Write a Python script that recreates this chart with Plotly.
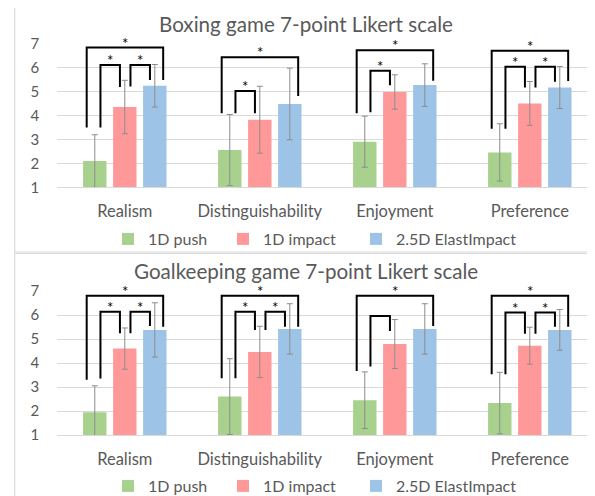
import plotly.graph_objects as go

# ---------------- data ----------------
categories = ["Realism", "Distinguishability", "Enjoyment", "Preference"]
series_names = ["1D push", "1D impact", "2.5D ElastImpact"]

boxing_push = [2.10, 2.56, 2.91, 2.46]
boxing_push_err = [1.10, 1.49, 1.07, 1.20]
boxing_impact = [4.36, 3.83, 4.99, 4.51]
boxing_impact_err = [1.12, 1.40, 0.72, 0.92]
boxing_elast = [5.25, 4.49, 5.28, 5.18]
boxing_elast_err = [0.89, 1.50, 0.89, 0.88]

goal_push = [1.95, 2.60, 2.45, 2.33]
goal_push_err = [1.10, 1.58, 1.18, 1.28]
goal_impact = [4.60, 4.46, 4.79, 4.72]
goal_impact_err = [0.86, 1.07, 1.02, 0.77]
goal_elast = [5.38, 5.42, 5.42, 5.38]
goal_elast_err = [1.13, 1.05, 1.05, 0.85]

panel_titles = ["Boxing game 7-point Likert scale", "Goalkeeping game 7-point Likert scale"]
y_ticks = [1, 2, 3, 4, 5, 6, 7]

# significance brackets: (category index, series a, series b, top level, left end, right end, star)
boxing_brackets = [
    (0, 0, 2, 6.85, 3.50, 5.49, True), (0, 0, 1, 6.12, 3.50, 5.20, True), (0, 1, 2, 6.12, 5.22, 5.49, True),
    (1, 0, 2, 6.45, 4.10, 4.82, True), (1, 0, 1, 5.03, 4.10, 4.10, True),
    (2, 0, 2, 6.74, 4.10, 5.46, True), (2, 0, 1, 5.88, 4.14, 5.27, True),
    (3, 0, 2, 6.72, 3.45, 5.45, True), (3, 0, 1, 6.05, 3.45, 5.18, True), (3, 1, 2, 6.05, 5.18, 5.42, True),
]
goal_brackets = [
    (0, 0, 2, 6.80, 3.30, 5.51, True), (0, 0, 1, 6.14, 3.35, 5.24, True), (0, 1, 2, 6.14, 5.24, 5.54, True),
    (1, 0, 2, 6.80, 3.36, 5.51, True), (1, 0, 1, 6.14, 3.36, 5.37, True), (1, 1, 2, 6.14, 5.37, 5.51, True),
    (2, 0, 2, 6.80, 3.67, 5.54, True), (2, 0, 1, 5.96, 3.85, 5.33, False),
    (3, 0, 2, 6.80, 3.53, 5.51, True), (3, 0, 1, 6.10, 3.53, 5.22, True), (3, 1, 2, 6.10, 5.22, 5.51, True),
]

# ---------------- style ----------------
OFF = 8                      # page body margin of the browser
W, H = 595 - OFF, 496 - OFF  # figure size so that its right/bottom edges meet the window
FONT = "Lato, Open Sans, sans-serif"
TXT = "#595959"
GRID = "#d9d9d9"
colors = ["#a9d18e", "#ff9999", "#9dc3e6"]
legend_widths = [70, 88, 0]
BARGAP = 0.333
GROUPGAP = 0.22
slot = (1 - BARGAP) / 3

def px_x(p):
    return (p - OFF) / W

def px_y(p):
    return 1 - (p - OFF) / H

x_left_px = 57.3
cat_px = 135.0
x_range = [-0.5, -0.5 + (595 - x_left_px) / cat_px]

panels = [
    dict(title=panel_titles[0], vals=[boxing_push, boxing_impact, boxing_elast],
         errs=[boxing_push_err, boxing_impact_err, boxing_elast_err], brackets=boxing_brackets,
         y7=44.0, y1=187.3, title_y=24, legend_y=239, frame=(5.5, 252.0)),
    dict(title=panel_titles[1], vals=[goal_push, goal_impact, goal_elast],
         errs=[goal_push_err, goal_impact_err, goal_elast_err], brackets=goal_brackets,
         y7=291.0, y1=435.0, title_y=271, legend_y=486, frame=(253.5, 505.0)),
]

fig = go.Figure()
shapes = []
annotations = []
layout_axes = {}

for pi, pnl in enumerate(panels):
    xa = "x" if pi == 0 else "x2"
    ya = "y" if pi == 0 else "y2"
    leg = "legend" if pi == 0 else "legend2"
    for si in range(3):
        fig.add_trace(go.Bar(
            x=list(range(len(categories))), y=pnl["vals"][si], name=series_names[si],
            marker=dict(color=colors[si], line=dict(width=0)),
            error_y=dict(type="data", array=pnl["errs"][si], color="#8c8c8c", thickness=1, width=3),
            xaxis=xa, yaxis=ya, legend=leg, showlegend=True, legendwidth=legend_widths[si],
        ))
    xkey = "xaxis" if pi == 0 else "xaxis2"
    ykey = "yaxis" if pi == 0 else "yaxis2"
    layout_axes[xkey] = dict(
        domain=[px_x(x_left_px), 1], range=x_range, anchor=ya,
        tickvals=list(range(len(categories))), ticktext=categories,
        tickfont=dict(family=FONT, size=16.5, color=TXT),
        ticks="outside", ticklen=9, tickcolor="rgba(0,0,0,0)",
        showline=True, linecolor=GRID, linewidth=1, showgrid=False, zeroline=False,
        automargin=False,
    )
    layout_axes[ykey] = dict(
        domain=[px_y(pnl["y1"]), px_y(pnl["y7"])], range=[1, 7], anchor=xa,
        tickvals=y_ticks, tickfont=dict(family=FONT, size=15, color=TXT),
        ticks="outside", ticklen=14, tickcolor="rgba(0,0,0,0)",
        showgrid=True, gridcolor=GRID, gridwidth=1, zeroline=False, showline=False,
        automargin=False,
    )
    f0, f1 = pnl["frame"]
    shapes.append(dict(type="rect", xref="paper", yref="paper", x0=px_x(14.7), x1=1.03,
                       y0=px_y(f1), y1=px_y(f0), line=dict(color=GRID, width=1.2), layer="below"))
    annotations.append(dict(text=pnl["title"], xref="paper", yref="paper", x=px_x(306), y=px_y(pnl["title_y"]),
                            xanchor="center", yanchor="middle", showarrow=False,
                            font=dict(family=FONT, size=20.6, color=TXT)))
    for (ci, a, b, top, le, re, star) in pnl["brackets"]:
        ca = ci + (a - 1) * slot
        cb = ci + (b - 1) * slot
        if b - a == 2:
            xl, xr = ca - 0.06, cb + 0.062
        else:
            xl, xr = ca + 0.042, cb - 0.036
        path = f"M{xl},{le} L{xl},{top} L{xr},{top} L{xr},{re}"
        shapes.append(dict(type="path", xref=xa, yref=ya, path=path,
                           line=dict(color="black", width=2), layer="above"))
        if star:
            annotations.append(dict(text="*", xref=xa, yref=ya, x=(xl + xr) / 2, y=top,
                                    xanchor="center", yanchor="bottom", yshift=-5, showarrow=False,
                                    borderpad=0, font=dict(family=FONT, size=15, color="black")))

legend_common = dict(orientation="h", xanchor="left", yanchor="middle", xref="paper", yref="paper",
                     font=dict(family=FONT, size=16, color=TXT), bgcolor="rgba(0,0,0,0)",
                     itemclick=False, itemdoubleclick=False, traceorder="normal", itemwidth=30)

fig.update_layout(
    width=W, height=H, margin=dict(l=0, r=0, t=0, b=0, pad=0, autoexpand=False),
    paper_bgcolor="white", plot_bgcolor="white",
    barmode="group", bargap=BARGAP, bargroupgap=GROUPGAP,
    shapes=shapes, annotations=annotations,
    legend=dict(x=px_x(108), y=px_y(panels[0]["legend_y"]), **legend_common),
    legend2=dict(x=px_x(108), y=px_y(panels[1]["legend_y"]), **legend_common),
    **layout_axes,
)

fig.write_html("out.html")
